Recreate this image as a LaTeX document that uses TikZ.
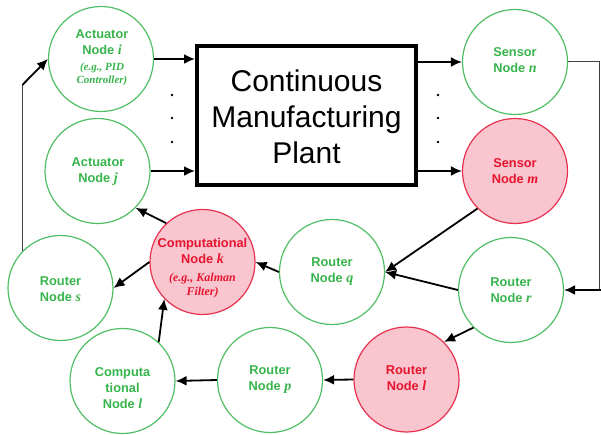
\documentclass[tikz,border=0pt]{standalone}
\usepackage{fontspec}
\setmainfont{Liberation Sans}
\newfontfamily\timesf{Liberation Serif}
\usetikzlibrary{arrows.meta}
\definecolor{gstroke}{RGB}{80,190,100}
\definecolor{gtext}{RGB}{55,180,75}
\definecolor{rstroke}{RGB}{230,50,80}
\definecolor{rfill}{RGB}{249,198,208}
\definecolor{rtext}{RGB}{230,20,45}
\newcommand{\nvar}[1]{{\timesf\bfseries\itshape\fontsize{14}{16}\selectfont #1}}
\begin{document}
\begin{tikzpicture}[x=1pt,y=-1pt,
 gnode/.style={circle,draw=gstroke,line width=1.2pt,minimum size=105pt,inner sep=0pt},
 rnode/.style={circle,draw=rstroke,fill=rfill,line width=1.2pt,minimum size=105pt,inner sep=0pt},
 gtxt/.style={text=gtext,align=center,font=\fontsize{12.8}{16}\selectfont\bfseries,inner sep=0pt},
 rtxt/.style={gtxt,text=rtext},
 egtxt/.style={align=center,font=\fontsize{11}{13}\selectfont\timesf\bfseries\itshape,inner sep=0pt},
 arr/.style={line width=1.8pt,-{Latex[length=11pt,width=10pt]}},
 thinl/.style={line width=1pt,draw=black!75},
 dotn/.style={circle,fill=black,inner sep=0pt,minimum size=2.6pt},
 ]
\useasboundingbox (0,0) rectangle (601,435);
% plant
\node[draw,line width=4pt,minimum width=219pt,minimum height=139pt,inner sep=0pt] (plant) at (306.5,115.5) {};
\node[font=\fontsize{30}{36}\selectfont,align=center,inner sep=0pt] (plantt) at (306.5,117) {Continuous\\Manufacturing\\Plant};
\node[dotn] (dl1) at (172,95) {};
\node[dotn] (dl2) at (172,118) {};
\node[dotn] (dl3) at (172,142) {};
\node[dotn] (dr1) at (438,95) {};
\node[dotn] (dr2) at (438,118) {};
\node[dotn] (dr3) at (438,142) {};
% actuators
\node[gnode] (ai) at (101,59) {};
\node[gtxt] (ait) at (102,42) {Actuator\\Node \nvar{i}};
\node[egtxt,text=gtext] (aie) at (102,74) {(e.g., PID\\Controller)};
\node[gnode] (aj) at (97.5,171) {};
\node[gtxt] (ajt) at (98,172) {Actuator\\Node \nvar{j}};
% sensors
\node[gnode] (sn) at (515,62) {};
\node[gtxt] (snt) at (515,60) {Sensor\\Node \nvar{n}};
\node[rnode] (sm) at (515,171) {};
\node[rtxt] (smt) at (515,171) {Sensor\\Node \nvar{m}};
% routers
\node[gnode] (rs) at (60.5,288) {};
\node[gtxt] (rst) at (60.5,289) {Router\\Node \nvar{s}};
\node[gnode] (rq) at (332,272) {};
\node[gtxt] (rqt) at (332,272) {Router\\Node \nvar{q}};
\node[gnode] (rr) at (511,290) {};
\node[gtxt] (rrt) at (511,290.5) {Router\\Node \nvar{r}};
\node[rnode] (rl) at (406.5,379.5) {};
\node[rtxt] (rlt) at (406.5,378.5) {Router\\Node \nvar{l}};
\node[gnode] (rp) at (270,380) {};
\node[gtxt] (rpt) at (270,379.5) {Router\\Node \nvar{p}};
% computational
\node[gnode] (cl) at (122.5,381) {};
\node[gtxt] (clt) at (122.5,388) {Computa\\tional\\Node \nvar{l}};
\node[rnode] (ck) at (202.5,262) {};
\node[rtxt] (ckt) at (202.5,251) {Computational\\Node \nvar{k}};
\node[egtxt,text=rtext,font=\fontsize{12}{14}\selectfont\timesf\bfseries\itshape] (cke) at (202.5,286) {(e.g., Kalman\\Filter)};
% connectors
\draw[arr] (ai.east) -- (ai.east -| plant.west);
\draw[arr] (aj.east) -- (aj.east -| plant.west);
\draw[arr] (plant.east |- sn.west) -- (sn.west);
\draw[arr] (plant.east |- sm.west) -- (sm.west);
\coordinate (rt) at (599.5,62);
\coordinate (rb) at (599.5,290);
\coordinate (rbo) at (601,290);
\draw[thinl] (sn.east) -- (rt) -- (rb);
\draw[arr] (rbo) -- (rr.east);
\draw[arr] (sm.225) -- (rq.east);
\draw[arr] (rr.west) -- (rq.east);
\draw[arr] (rr.225) -- (rl.45);
\draw[arr] (rl.west) -- (rp.east);
\draw[arr] (rp.west) -- (cl.east);
\draw[arr] (cl.47) -- (ck.224);
\draw[arr] (rq.west) -- (ck.east);
\draw[arr] (ck.west) -- (rs.east);
\draw[arr] (ck.133) -- (aj.316);
\coordinate (lb) at (23,85);
\draw[thinl] (rs.136) -- (rs.136 |- lb);
\draw[arr] (rs.136 |- lb) -- (ai.west);
\end{tikzpicture}
\end{document}
